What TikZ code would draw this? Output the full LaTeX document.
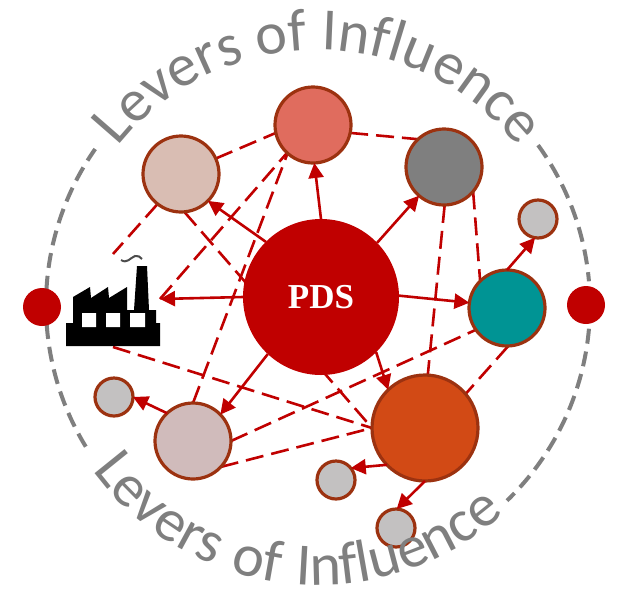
\documentclass[tikz,border=0pt]{standalone}
\usepackage{fontspec}
\setmainfont{Carlito}
\newfontfamily\pdsfont{Liberation Serif}
\newfontfamily\spacedfont[LetterSpace=5]{Carlito}
\usetikzlibrary{arrows.meta,decorations.text,backgrounds}
\definecolor{rd}{HTML}{C00000}
\definecolor{bord}{HTML}{9C3210}
\definecolor{gry}{HTML}{7F7F7F}
\tikzset{
  bubble/.style={circle,draw=bord,line width=3.2pt,inner sep=0pt,outer sep=0pt,minimum size=#1},
  dot/.style={circle,fill=rd,inner sep=0pt,outer sep=0pt,minimum size=38pt},
  solidarrow/.style={draw=rd,line width=2.6pt,-{Triangle[length=15pt,width=15pt]}},
  dashedlink/.style={draw=rd,line width=2.6pt,dash pattern=on 18pt off 8pt},
  ringarc/.style={draw=gry,line width=4pt,dash pattern=on 15pt off 8pt},
  curvedtop/.style={decorate,decoration={text along path,text align=center,text color=gry,text={|\fontsize{60pt}{64pt}\selectfont|Levers of Influence}}},
  curvedbot/.style={decorate,decoration={text along path,text align=center,text color=gry,text={|\spacedfont\fontsize{60pt}{64pt}\selectfont|Levers of Influence}}}
}
\begin{document}
\begin{tikzpicture}[x=1pt,y=-1pt]
\useasboundingbox (0,0) rectangle (618,590);
\coordinate (c) at (318,305);
% nodes
\node[circle,fill=rd,inner sep=0pt,outer sep=0pt,minimum size=156pt,text=white,font=\pdsfont\bfseries\fontsize{35pt}{38pt}\selectfont] (pds) at (321,297) {PDS};
\node[bubble=76pt,fill={rgb,255:red,224;green,108;blue,94}] (pink) at (313,125) {};
\node[bubble=76pt,fill={rgb,255:red,217;green,189;blue,179}] (beige) at (181,174) {};
\node[bubble=76pt,fill=gry] (grey) at (444,167) {};
\node[bubble=76pt,fill={rgb,255:red,0;green,148;blue,148}] (teal) at (507,308) {};
\node[bubble=106pt,fill={rgb,255:red,210;green,74;blue,21}] (orange) at (425,428) {};
\node[bubble=76pt,fill={rgb,255:red,208;green,187;blue,187}] (mauve) at (193,441) {};
\node[bubble=38pt,fill={rgb,255:red,195;green,193;blue,193}] (s1) at (538,219) {};
\node[bubble=38pt,fill={rgb,255:red,195;green,193;blue,193}] (s2) at (114,397) {};
\node[bubble=38pt,fill={rgb,255:red,195;green,193;blue,193}] (s3) at (336,480) {};
\node[bubble=38pt,fill={rgb,255:red,195;green,193;blue,193}] (s4) at (396,528) {};
\node[dot] (dl) at (42,307) {};
\node[dot] (dr) at (586,305) {};
% factory
\fill[black] (66,346) -- (160,346) -- (160,323) -- (156,323) -- (156,310) -- (149,310) -- (147,266) -- (137,266) -- (134,310) -- (127,310) -- (127,287) -- (109,298) -- (108,287) -- (91,298) -- (90,287) -- (73,297) -- (73,323) -- (66,323) -- cycle;
\fill[white] (82,313) rectangle (96,327) (106,313) rectangle (120,327) (130,313) rectangle (145,327);
\draw[black!70,line width=2pt] (121,260) .. controls (127,264) and (130,258) .. (135,256) .. controls (138,255) and (140,257) .. (142,259);
\coordinate (fTop) at (113,254);
\coordinate (fTip) at (160,299);
\coordinate (fBot) at (113,347);
% links behind the nodes
\begin{scope}[on background layer]
\draw[dashedlink] (beige.232) -- (fTop);
\draw[dashedlink] (beige.24) -- (pink.192);
\draw[dashedlink] (pink.-12) -- (grey.133);
\draw[dashedlink] (fTip) -- (pink.227);
\draw[dashedlink] (mauve.90) -- (pink.228);
\draw[dashedlink] (beige.-85) -- (orange.180);
\draw[dashedlink] (fBot) -- (orange.180);
\draw[dashedlink] (mauve.0) -- (teal.215);
\draw[dashedlink] (mauve.-43) -- (orange.180);
\draw[dashedlink] (grey.-89) -- (orange.87);
\draw[dashedlink] (grey.-40) -- (teal.135);
\draw[dashedlink] (teal.-88) -- (orange.40);
\draw[ringarc] (c) ++(177:272pt) arc[start angle=177,end angle=145,radius=272pt];
\draw[ringarc] (c) ++(36:272pt) arc[start angle=36,end angle=5,radius=272pt];
\draw[ringarc] (c) ++(-176:272pt) arc[start angle=-176,end angle=-147,radius=272pt];
\draw[ringarc] (c) ++(-5:272pt) arc[start angle=-5,end angle=-46,radius=272pt];
\end{scope}
% arrows
\draw[solidarrow] (pds.90) -- (pink.-88);
\draw[solidarrow] (pds.44) -- (grey.-131);
\draw[solidarrow] (pds.135) -- (beige.-45);
\draw[solidarrow] (pds.180) -- (fTip);
\draw[solidarrow] (pds.1) -- (teal.172);
\draw[solidarrow] (pds.-45) -- (orange.134);
\draw[solidarrow] (pds.-133) -- (mauve.44);
\draw[solidarrow] (teal.90) -- (s1.-99);
\draw[solidarrow] (mauve.133) -- (s2.0);
\draw[solidarrow] (orange.-136) -- (s3.39);
\draw[solidarrow] (orange.-90) -- (s4.88);
% curved labels
\path[curvedtop] (c) ++(150:255pt) arc[start angle=150,end angle=30,radius=255pt];
\path[curvedbot] (c) ++(-156:280pt) arc[start angle=-156,end angle=-36,radius=280pt];
\end{tikzpicture}
\end{document}
